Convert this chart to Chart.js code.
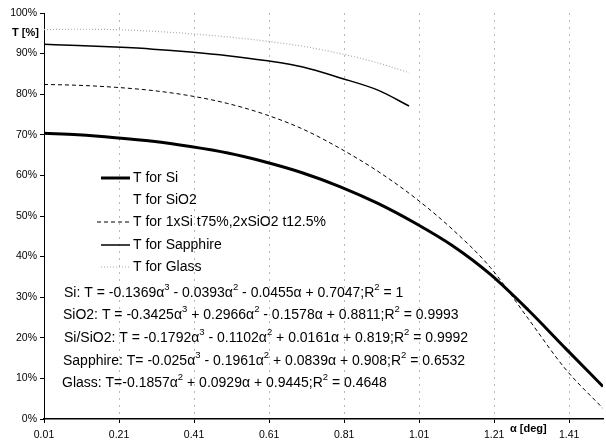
<!DOCTYPE html>
<html><head><meta charset="utf-8">
<script src="https://cdn.jsdelivr.net/npm/chart.js@4"></script>
<style>html,body{margin:0;padding:0;background:#fff}canvas{display:block}</style>
</head><body>
<canvas id="c" width="606" height="444"></canvas>
<script>
// ---- data ----
const alphaLong = [0.01,0.1,0.2,0.3,0.4,0.5,0.6,0.7,0.8,0.9,1.0,1.1,1.2,1.3,1.4,1.5];
const tSi       = [70.4,70.0,69.3,68.4,67.1,65.5,63.3,60.6,57.2,53.1,48.2,42.6,35.6,26.9,17.4,8.0];
const tSiSiO2   = [82.4,82.2,81.7,80.9,79.6,77.7,75.0,71.4,66.6,61.0,54.4,46.6,37.3,24.8,12.3,2.6];
const alphaShort = [0.01,0.1,0.2,0.3,0.4,0.5,0.6,0.7,0.8,0.9,0.983];
const tSapphire = [92.3,92.0,91.6,91.1,90.4,89.5,88.3,86.7,84.0,81.0,77.1];
const tGlass    = [95.9,96.0,95.9,95.5,94.9,94.1,93.1,91.8,90.0,87.7,85.3];
const tSiO2     = []; // drawn in white in the reference (not visible)
const seriesLabels = ['T for Si','T for SiO2','T for 1xSi t75%,2xSiO2 t12.5%','T for Sapphire','T for Glass'];
const xTickValues = [0.01,0.21,0.41,0.61,0.81,1.01,1.21,1.41];
const xTickLabels = ['0.01','0.21','0.41','0.61','0.81','1.01','1.21','1.41'];
const yTickValues = [0,10,20,30,40,50,60,70,80,90,100];
const equations = [
  'Si: T = -0.1369α^3 - 0.0393α^2 - 0.0455α + 0.7047;R^2 = 1',
  'SiO2: T = -0.3425α^3 + 0.2966α^2 - 0.1578α + 0.8811;R^2 = 0.9993',
  'Si/SiO2: T = -0.1792α^3 - 0.1102α^2 + 0.0161α + 0.819;R^2 = 0.9992',
  'Sapphire: T= -0.025α^3 - 0.1961α^2 + 0.0839α + 0.908;R^2 = 0.6532',
  'Glass: T=-0.1857α^2 + 0.0929α + 0.9445;R^2 = 0.4648'
];
const yTitle = 'T [%]';
const xTitle = 'α [deg]';

const FF = "'Liberation Sans', Arial, sans-serif";
const pts = (xs, ys) => ys.map((y, i) => ({x: xs[i], y}));

const datasets = [
  {label: seriesLabels[0], data: pts(alphaLong, tSi), borderColor:'#000', borderWidth:3, borderDash:[]},
  {label: seriesLabels[1], data: pts(alphaLong, tSiO2), borderColor:'#fff', borderWidth:1, borderDash:[]},
  {label: seriesLabels[2], data: pts(alphaLong, tSiSiO2), borderColor:'#000', borderWidth:1, borderDash:[4,3]},
  {label: seriesLabels[3], data: pts(alphaShort, tSapphire), borderColor:'#000', borderWidth:1.5, borderDash:[]},
  {label: seriesLabels[4], data: pts(alphaShort, tGlass), borderColor:'#aaa', borderWidth:1.2, borderDash:[1,2]}
].map(d => Object.assign(d, {pointRadius:0, fill:false, cubicInterpolationMode:'monotone'}));

const overlay = {
  id:'overlay',
  afterDatasetsDraw(chart){
    const ctx = chart.ctx;
    ctx.save();
    // legend
    const rows = [178,200,222,245,267];
    chart.data.datasets.forEach((ds, i) => {
      const y = rows[i];
      ctx.beginPath();
      ctx.strokeStyle = ds.borderColor;
      ctx.lineWidth = ds.borderWidth;
      ctx.setLineDash(ds.borderDash);
      ctx.moveTo(i===2 ? 97 : 101, y);
      ctx.lineTo(130, y);
      ctx.stroke();
      ctx.setLineDash([]);
      ctx.fillStyle = '#000';
      ctx.font = '14px ' + FF;
      ctx.textBaseline = 'middle';
      ctx.textAlign = 'left';
      ctx.fillText(ds.label, 133, y + 0.5);
    });
    // equations
    const eqY = [293,315,338,361,383];
    const eqX = [64,63,64,63,62];
    equations.forEach((eq, i) => {
      let x = eqX[i];
      const y = eqY[i];
      const parts = eq.split('^');
      parts.forEach((p, k) => {
        if (k > 0) {
          ctx.font = '9.5px ' + FF;
          ctx.fillText(p[0], x, y - 6);
          x += ctx.measureText(p[0]).width;
          p = p.slice(1);
        }
        ctx.font = '14px ' + FF;
        ctx.fillText(p, x, y);
        x += ctx.measureText(p).width;
      });
    });
    // axis titles
    ctx.font = 'bold 11px ' + FF;
    ctx.fillText(yTitle, 12, 33);
    ctx.fillText(xTitle, 510, 429);
    ctx.restore();
  }
};

new Chart(document.getElementById('c'), {
  type:'line',
  data:{datasets},
  options:{
    responsive:false, animation:false, devicePixelRatio:1,
    layout:{padding:{top:13, right:3, left:0, bottom:0}},
    plugins:{legend:{display:false}, tooltip:{enabled:false}},
    scales:{
      x:{
        type:'linear', min:0.01, max:1.5,
        afterBuildTicks(s){ s.ticks = xTickValues.map(v => ({value:v})); },
        afterFit(s){ s.height = 25; },
        ticks:{autoSkip:false, maxRotation:0, padding:6, color:'#000',
          font:{family:FF, size:10.5},
          callback:(v, i) => xTickLabels[i]},
        grid:{display:true, drawOnChartArea:true, color:'#b8b8b8', lineWidth:1, tickLength:4, tickColor:'#000'},
        border:{display:true, color:'#000', width:1.5, dash:[2,5]}
      },
      y:{
        min:0, max:100,
        afterBuildTicks(s){ s.ticks = yTickValues.map(v => ({value:v})); },
        afterFit(s){ s.width = 44; },
        ticks:{padding:3, color:'#000', font:{family:FF, size:10.5}, callback:v => v + '%'},
        grid:{display:true, drawOnChartArea:false, tickLength:4, color:'#000'},
        border:{display:true, color:'#000', width:1}
      }
    }
  },
  plugins:[overlay]
});
</script>
</body></html>
